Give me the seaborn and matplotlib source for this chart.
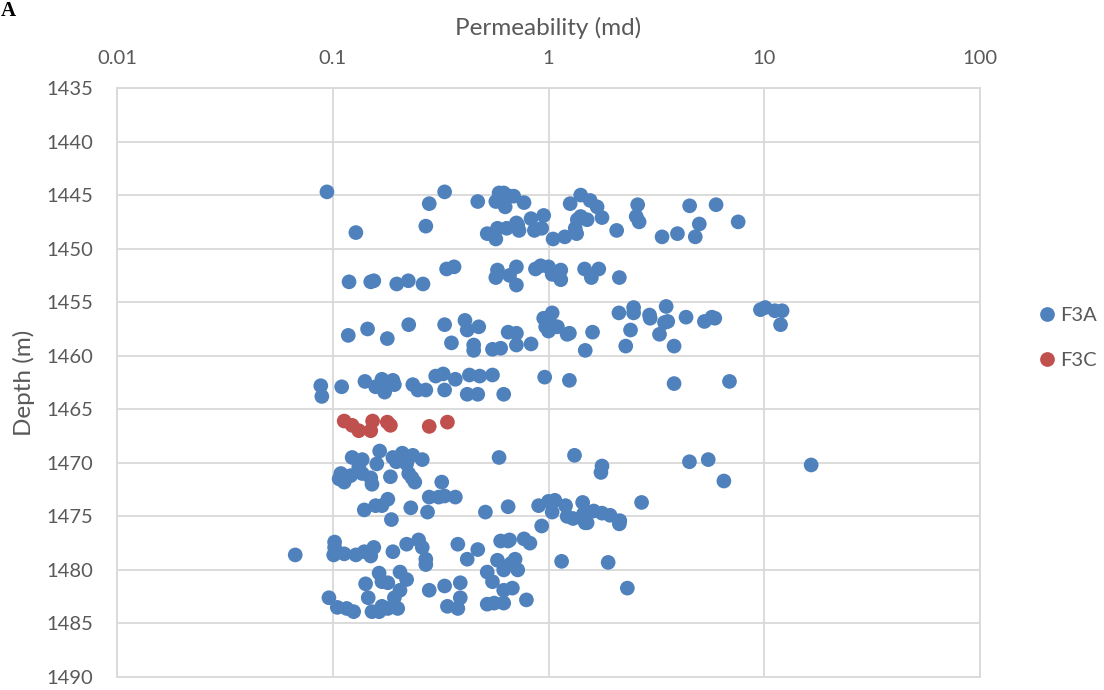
import matplotlib
matplotlib.use("Agg")
import matplotlib.pyplot as plt
import seaborn as sns
import pandas as pd
from matplotlib.lines import Line2D

# ---------------- data ----------------
series_names = ["F3A", "F3C"]

f3a_perm = [
    # ~1445-1449
    0.094, 0.128, 0.27, 0.28, 0.33, 0.47, 0.59, 0.57, 0.63, 0.66, 0.52, 0.57, 0.58, 0.64, 0.71,
    0.62, 0.69, 0.77, 0.72, 0.73, 0.83, 0.86, 0.93, 0.95, 1.05, 1.19, 1.26, 1.41, 1.56, 1.68,
    1.77, 1.36, 1.41, 1.51, 1.33, 1.35, 2.07, 2.59, 2.55, 2.63, 3.36, 3.96, 4.51, 5.0, 4.79,
    5.98, 7.57,
    # ~1452
    0.119, 0.15, 0.155, 0.198, 0.224, 0.262, 0.337, 0.365, 0.57, 0.58, 0.66, 0.71, 0.71, 0.87,
    0.92, 1.0, 1.04, 1.14, 1.14, 1.10, 1.47, 1.58, 1.71, 2.13,
    # ~1457
    0.118, 0.145, 0.179, 0.225, 0.33, 0.355, 0.41, 0.42, 0.475, 0.45, 0.45, 0.55, 0.60, 0.65,
    0.71, 0.71, 0.83, 0.95, 1.04, 0.97, 1.05, 1.10, 1.0, 1.22, 1.25, 1.60, 1.48, 2.12, 2.48,
    2.48, 2.4, 2.28, 2.94, 2.96, 3.27, 3.51, 3.45, 3.57, 3.82, 4.34, 5.28, 5.72, 5.9, 9.6,
    10.1, 11.2, 12.1, 11.9,
    # ~1462
    0.088, 0.089, 0.110, 0.141, 0.158, 0.169, 0.17, 0.174, 0.19, 0.193, 0.235, 0.248, 0.27,
    0.30, 0.325, 0.33, 0.37, 0.43, 0.42, 0.47, 0.48, 0.55, 0.62, 0.96, 1.25, 3.82, 6.9,
    # ~1470
    0.123, 0.137, 0.165, 0.109, 0.107, 0.113, 0.121, 0.132, 0.137, 0.15, 0.152, 0.16, 0.185,
    0.19, 0.21, 0.235, 0.26, 0.197, 0.22, 0.225, 0.233, 0.24, 0.32, 0.59, 1.32, 1.77, 1.75,
    4.5, 5.5, 6.5, 16.5,
    # ~1474
    0.14, 0.158, 0.169, 0.18, 0.187, 0.23, 0.275, 0.28, 0.31, 0.33, 0.37, 0.51, 0.65, 0.90,
    1.07, 1.0, 1.20, 1.44, 1.04, 1.22, 1.30, 1.45, 1.48, 1.51, 1.62, 1.77, 1.93, 2.13, 2.14,
    2.7, 0.93,
    # ~1477-1484
    0.067, 0.102, 0.102, 0.101, 0.113, 0.128, 0.14, 0.15, 0.155, 0.19, 0.22, 0.25, 0.26, 0.27,
    0.27, 0.38, 0.42, 0.47, 0.60, 0.65, 0.58, 0.62, 0.69, 0.52, 0.55, 0.62, 0.68, 0.52, 0.56,
    0.62,
    0.164, 0.142, 0.169, 0.18, 0.205, 0.22, 0.205, 0.193, 0.146, 0.096, 0.105, 0.116, 0.125,
    0.152, 0.164, 0.169, 0.18, 0.20, 0.28, 0.33, 0.39, 0.39, 0.34, 0.38,
    0.66, 0.77, 0.82, 0.67, 0.70, 0.72, 0.79, 1.15, 1.89, 2.32,
]

f3a_depth = [
    # ~1445-1449
    1444.7, 1448.5, 1447.9, 1445.8, 1444.7, 1445.6, 1444.8, 1445.6, 1446.1, 1445.1, 1448.6, 1449.1, 1448.1, 1448.1, 1447.6,
    1444.8, 1445.1, 1445.7, 1447.8, 1448.3, 1447.2, 1448.3, 1448.1, 1446.9, 1449.1, 1448.9, 1445.8, 1445.0, 1445.5, 1446.1,
    1447.1, 1447.3, 1447.0, 1447.3, 1448.1, 1448.6, 1448.3, 1445.9, 1447.0, 1447.5, 1448.9, 1448.6, 1446.0, 1447.7, 1448.9,
    1445.9, 1447.5,
    # ~1452
    1453.1, 1453.1, 1453.0, 1453.3, 1453.0, 1453.3, 1451.9, 1451.7, 1452.7, 1452.0, 1452.5, 1451.7, 1453.4, 1451.9,
    1451.6, 1451.7, 1452.4, 1452.0, 1452.9, 1452.5, 1451.9, 1452.7, 1451.9, 1452.7,
    # ~1457
    1458.1, 1457.5, 1458.4, 1457.1, 1457.1, 1458.8, 1456.7, 1457.6, 1457.3, 1459.0, 1459.5, 1459.4, 1459.3, 1457.8,
    1457.9, 1459.0, 1458.9, 1456.5, 1456.0, 1457.3, 1457.2, 1457.3, 1457.7, 1458.0, 1457.9, 1457.8, 1459.5, 1456.0, 1455.5,
    1456.0, 1457.6, 1459.1, 1456.2, 1456.5, 1458.0, 1455.4, 1456.9, 1456.8, 1459.1, 1456.4, 1456.8, 1456.4, 1456.5, 1455.7,
    1455.5, 1455.8, 1455.8, 1457.1,
    # ~1462
    1462.8, 1463.8, 1462.9, 1462.4, 1462.9, 1462.2, 1462.9, 1463.4, 1462.3, 1462.7, 1462.7, 1463.2, 1463.2,
    1461.9, 1461.7, 1463.2, 1462.2, 1461.8, 1463.6, 1463.6, 1461.9, 1461.8, 1463.6, 1462.0, 1462.3, 1462.6, 1462.4,
    # ~1470
    1469.5, 1469.7, 1468.9, 1471.0, 1471.5, 1471.8, 1471.2, 1470.4, 1471.0, 1471.4, 1472.0, 1470.1, 1471.3,
    1469.5, 1469.1, 1469.3, 1469.7, 1469.9, 1470.1, 1471.0, 1471.4, 1471.8, 1471.8, 1469.5, 1469.3, 1470.3, 1470.9,
    1469.9, 1469.7, 1471.7, 1470.2,
    # ~1474
    1474.4, 1474.0, 1474.0, 1473.4, 1475.3, 1474.2, 1474.6, 1473.2, 1473.2, 1473.1, 1473.2, 1474.6, 1474.1, 1474.0,
    1473.5, 1473.6, 1474.0, 1473.7, 1474.6, 1475.0, 1475.2, 1474.8, 1475.6, 1475.6, 1474.5, 1474.7, 1474.9, 1475.7, 1475.4,
    1473.7, 1475.9,
    # ~1477-1484
    1478.6, 1477.4, 1477.9, 1478.6, 1478.5, 1478.6, 1478.3, 1478.7, 1477.9, 1478.3, 1477.6, 1477.2, 1477.9, 1479.0,
    1479.5, 1477.6, 1479.0, 1478.1, 1477.3, 1477.3, 1479.1, 1480.0, 1479.4, 1480.2, 1481.1, 1481.9, 1481.7, 1483.2, 1483.1,
    1483.1,
    1480.3, 1481.3, 1481.1, 1481.2, 1480.2, 1480.9, 1481.9, 1482.6, 1482.6, 1482.6, 1483.5, 1483.6, 1483.9,
    1483.9, 1483.9, 1483.4, 1483.6, 1483.6, 1481.9, 1481.5, 1481.2, 1482.6, 1483.4, 1483.6,
    1477.2, 1477.1, 1477.5, 1479.4, 1479.0, 1480.0, 1482.8, 1479.2, 1479.3, 1481.7,
]

f3c_perm = [0.113, 0.123, 0.132, 0.15, 0.153, 0.179, 0.185, 0.28, 0.34]
f3c_depth = [1466.1, 1466.5, 1467.0, 1467.0, 1466.1, 1466.2, 1466.5, 1466.6, 1466.2]

x_ticks = [0.01, 0.1, 1, 10, 100]
x_tick_labels = ["0.01", "0.1", "1", "10", "100"]
y_ticks = list(range(1435, 1491, 5))

colors = {"F3A": "#4F81BD", "F3C": "#C0504D"}

# ---------------- plot ----------------
sns.set_theme(style="white")
plt.rcParams["font.family"] = ["Lato", "DejaVu Sans"]
text_color = "#595959"
grid_color = "#D9D9D9"

df = pd.DataFrame({
    "perm": f3a_perm + f3c_perm,
    "depth": f3a_depth + f3c_depth,
    "series": ["F3A"] * len(f3a_perm) + ["F3C"] * len(f3c_perm),
})

fig = plt.figure(figsize=(11.04, 6.90), dpi=100)
ax = fig.add_axes([117 / 1104, 13 / 690, (980 - 117) / 1104, (677 - 88) / 690])

sns.scatterplot(data=df, x="perm", y="depth", hue="series", hue_order=series_names,
                palette=colors, s=112, edgecolor="none", linewidth=0, alpha=1,
                ax=ax, legend=False, zorder=3)

ax.set_xscale("log")
ax.set_xlim(0.01, 100)
ax.set_ylim(1490, 1435)
ax.set_xticks(x_ticks)
ax.set_xticklabels(x_tick_labels)
ax.minorticks_off()
ax.set_yticks(y_ticks)
ax.xaxis.tick_top()
ax.xaxis.set_label_position("top")
ax.tick_params(axis="both", length=0, labelsize=14.5, colors=text_color)
ax.tick_params(axis="x", pad=15)
ax.tick_params(axis="y", pad=17)

ax.grid(True, color=grid_color, linewidth=1.3)
ax.set_axisbelow(True)
for side, sp in ax.spines.items():
    sp.set_visible(True)
    sp.set_color(grid_color)
    sp.set_linewidth(1.3)

ax.set_xlabel("Permeability (md)", fontsize=17.5, color=text_color, labelpad=11)
ax.set_ylabel("Depth (m)", fontsize=17.5, color=text_color, labelpad=8)

handles = [Line2D([0], [0], marker="o", linestyle="none", markersize=10.6,
                  markerfacecolor=colors[n], markeredgecolor="none") for n in series_names]
leg = fig.legend(handles, series_names, loc="center left",
                 bbox_to_anchor=(1027 / 1104, 1 - 338 / 690), frameon=False,
                 fontsize=14.5, handletextpad=0.05, labelspacing=1.35,
                 handlelength=1.2, borderaxespad=0)
for t in leg.get_texts():
    t.set_color(text_color)

fig.text(0.001, 0.999, "A", fontsize=15, fontweight="bold",
         family=["Liberation Serif", "DejaVu Serif"], ha="left", va="top", color="black")

fig.savefig("out.png", dpi=100)
